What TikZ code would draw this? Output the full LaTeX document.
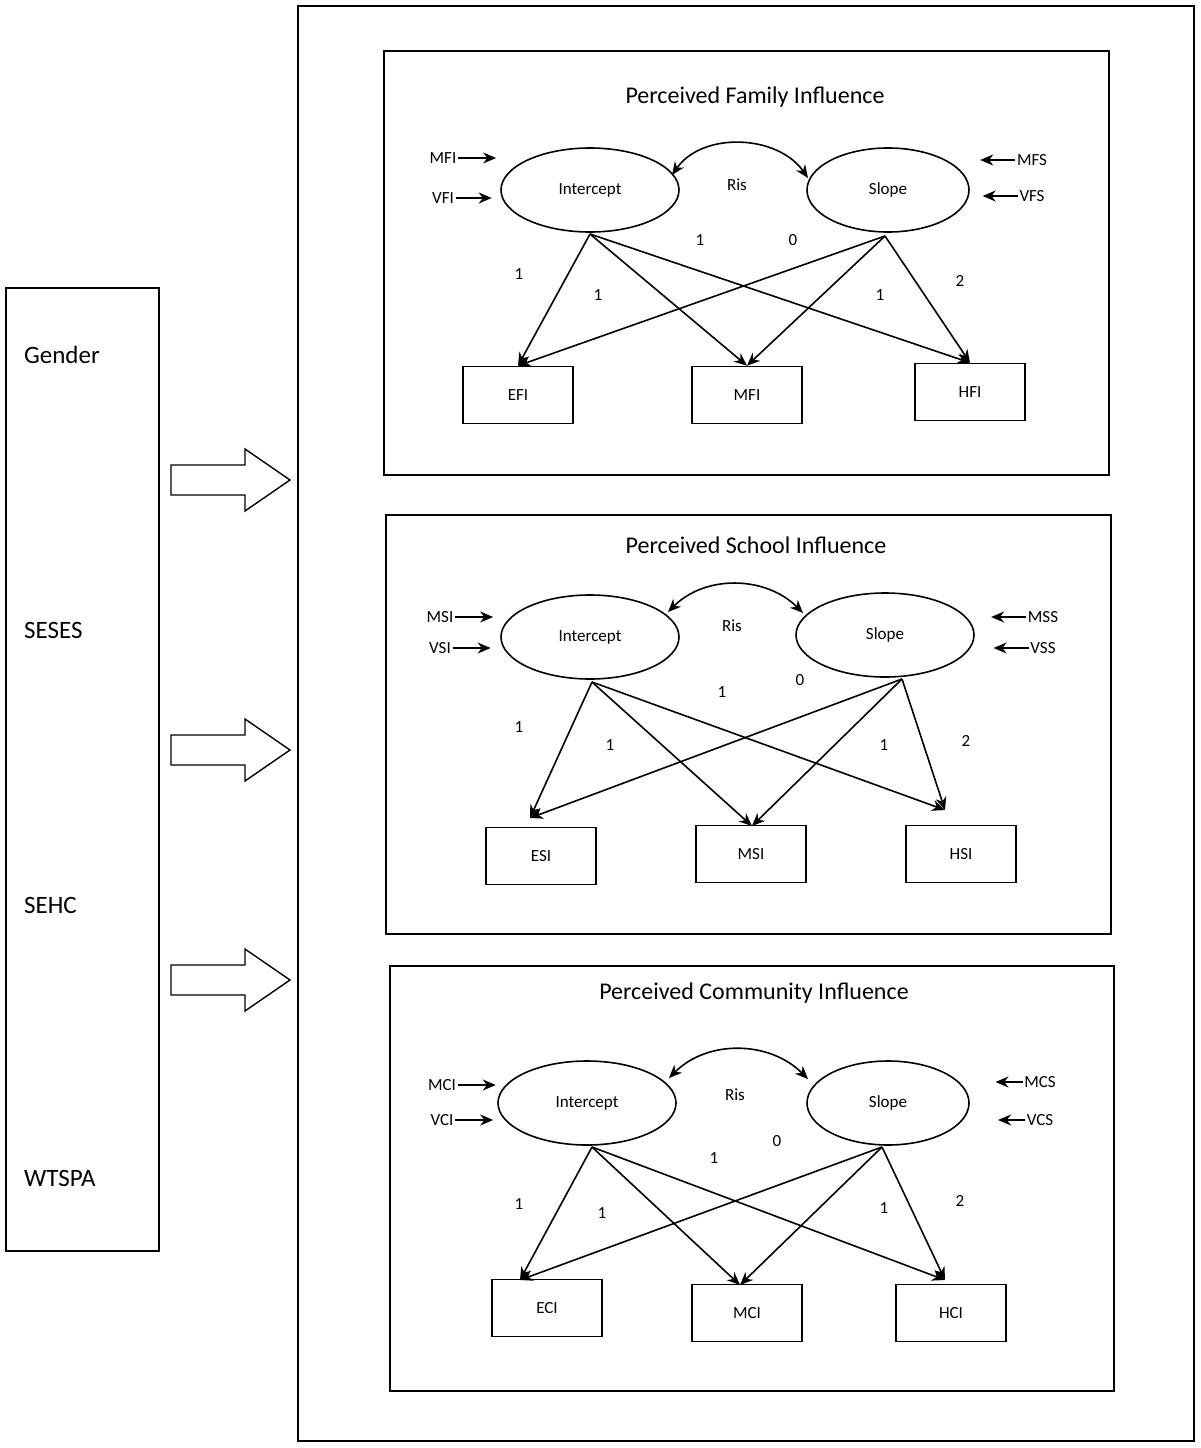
\documentclass[tikz,border=0pt]{standalone}
\usepackage{fontspec}
\setmainfont{Carlito}
\usetikzlibrary{arrows.meta,shapes.geometric,calc}
\begin{document}
\begin{tikzpicture}[x=1pt,y=-1pt,line width=1.6pt,
 box/.style={draw,minimum width=110pt,minimum height=57pt,font=\fontsize{17}{19}\selectfont},
 ell/.style={draw,ellipse,minimum width=178pt,minimum height=84pt,font=\fontsize{17}{19}\selectfont},
 sm/.style={font=\fontsize{17}{19}\selectfont,inner sep=1pt},
 ttl/.style={font=\fontsize{24}{27}\selectfont},
 big/.style={font=\fontsize{25}{28}\selectfont,anchor=west},
 arr/.style={-{Stealth[length=13pt,width=11pt]}},
 darr/.style={{Stealth[length=13pt,width=11pt]}-{Stealth[length=13pt,width=11pt]}},
 blk/.style={draw,line width=1.4pt}]
\useasboundingbox (0,0) rectangle (1200,1448);
% left box
\node[draw,minimum width=153pt,minimum height=963pt,anchor=north west] (left) at (5,287) {};
\node[big] (g) at (20,355) {Gender};
\node[big] (s1) at (20,630) {SESES};
\node[big] (s2) at (20,905) {SEHC};
\node[big] (w) at (20,1178) {WTSPA};
% block arrows
\foreach \yy/\nm in {480/a1,750/a2,980/a3}{
 \draw[blk] (171,\yy-15) -- (245,\yy-15) -- (245,\yy-31) -- (290,\yy) -- (245,\yy+31) -- (245,\yy+15) -- (171,\yy+15) -- cycle;
 \coordinate (\nm) at (290,\yy);}
% outer box
\node[draw,minimum width=896pt,minimum height=1435pt,anchor=north west] (outer) at (297,5) {};
% ===== panel 1
\node[draw,minimum width=725pt,minimum height=424pt,anchor=north west] (p1) at (383,50) {};
\node[ttl] (t1) at (755,97) {Perceived Family Influence};
\node[ell] (p1i) at (590,190) {Intercept};
\node[ell,minimum width=162pt] (p1s) at (888,190) {Slope};
\node[box] (p1a) at (518,395) {EFI};
\node[box] (p1b) at (747,395) {MFI};
\node[box] (p1c) at (970,392) {HFI};
\node[sm] (p1m) at (443,158) {MFI}; \node[sm] (p1v) at (443,198) {VFI};
\node[sm] (p1ms) at (1032,160) {MFS}; \node[sm] (p1vs) at (1032,196) {VFS};
\draw[arr] (p1m.east) -- ++(38,0);
\draw[arr] (p1v.east) -- ++(36,0);
\draw[arr] (p1ms.west) -- ++(-35,0);
\draw[arr] (p1vs.west) -- ++(-35,0);
\node[sm] (p1r) at (737,185) {Ris};
\draw[darr] ($(p1i.center)+(82,-15)$) to[out=55,in=125] ($(p1s.center)+(-80,-12)$);
\coordinate (p1ib) at (590,234); \coordinate (p1sb) at (885,236);
\foreach \t in {p1a,p1b,p1c}{\draw[arr] (p1ib) -- (\t.north); \draw[arr] (p1sb) -- (\t.north);}
\node[sm] at (519,274) {1}; \node[sm] at (598,295) {1}; \node[sm] at (700,240) {1};
\node[sm] at (793,240) {0}; \node[sm] at (880,295) {1}; \node[sm] at (960,281) {2};
% ===== panel 2
\node[draw,minimum width=725pt,minimum height=419pt,anchor=north west] (p2) at (385,514) {};
\node[ttl] (t2) at (756,545) {Perceived School Influence};
\node[ell] (p2i) at (590,637) {Intercept};
\node[ell] (p2s) at (885,635) {Slope};
\node[box] (p2a) at (541,856) {ESI};
\node[box] (p2b) at (751,854) {MSI};
\node[box] (p2c) at (961,854) {HSI};
\node[sm] (p2m) at (440,617) {MSI}; \node[sm] (p2v) at (440,648) {VSI};
\node[sm] (p2ms) at (1043,617) {MSS}; \node[sm] (p2vs) at (1043,648) {VSS};
\draw[arr] (p2m.east) -- ++(38,0);
\draw[arr] (p2v.east) -- ++(38,0);
\draw[arr] (p2ms.west) -- ++(-35,0);
\draw[arr] (p2vs.west) -- ++(-35,0);
\node[sm] (p2r) at (732,626) {Ris};
\draw[darr] ($(p2i.center)+(78,-25)$) to[out=45,in=135] ($(p2s.center)+(-82,-22)$);
\coordinate (p2ib) at (592,682); \coordinate (p2sb) at (902,679);
\coordinate (p2at) at (530,818); \coordinate (p2bt) at (752,826); \coordinate (p2ct) at (945,810);
\foreach \t in {p2at,p2bt,p2ct}{\draw[arr] (p2ib) -- (\t); \draw[arr] (p2sb) -- (\t);}
\node[sm] at (519,727) {1}; \node[sm] at (610,745) {1}; \node[sm] at (722,692) {1};
\node[sm] at (800,680) {0}; \node[sm] at (884,745) {1}; \node[sm] at (966,741) {2};
% ===== panel 3
\node[draw,minimum width=724pt,minimum height=425pt,anchor=north west] (p3) at (389,965) {};
\node[ttl] (t3) at (754,993) {Perceived Community Influence};
\node[ell] (p3i) at (587,1103) {Intercept};
\node[ell,minimum width=162pt] (p3s) at (888,1103) {Slope};
\node[box] (p3a) at (547,1308) {ECI};
\node[box] (p3b) at (747,1313) {MCI};
\node[box] (p3c) at (951,1313) {HCI};
\node[sm] (p3m) at (442,1085) {MCI}; \node[sm] (p3v) at (442,1120) {VCI};
\node[sm] (p3ms) at (1040,1082) {MCS}; \node[sm] (p3vs) at (1040,1120) {VCS};
\draw[arr] (p3m.east) -- ++(38,0);
\draw[arr] (p3v.east) -- ++(38,0);
\draw[arr] (p3ms.west) -- ++(-27,0);
\draw[arr] (p3vs.west) -- ++(-27,0);
\node[sm] (p3r) at (735,1095) {Ris};
\draw[darr] ($(p3i.center)+(82,-25)$) to[out=45,in=135] ($(p3s.center)+(-80,-24)$);
\coordinate (p3ib) at (592,1147); \coordinate (p3sb) at (882,1147);
\coordinate (p3at) at (520,1280); \coordinate (p3bt) at (740,1285); \coordinate (p3ct) at (945,1280);
\foreach \t in {p3at,p3bt,p3ct}{\draw[arr] (p3ib) -- (\t); \draw[arr] (p3sb) -- (\t);}
\node[sm] at (519,1204) {1}; \node[sm] at (602,1213) {1}; \node[sm] at (714,1158) {1};
\node[sm] at (777,1141) {0}; \node[sm] at (884,1208) {1}; \node[sm] at (960,1201) {2};
\end{tikzpicture}
\end{document}
